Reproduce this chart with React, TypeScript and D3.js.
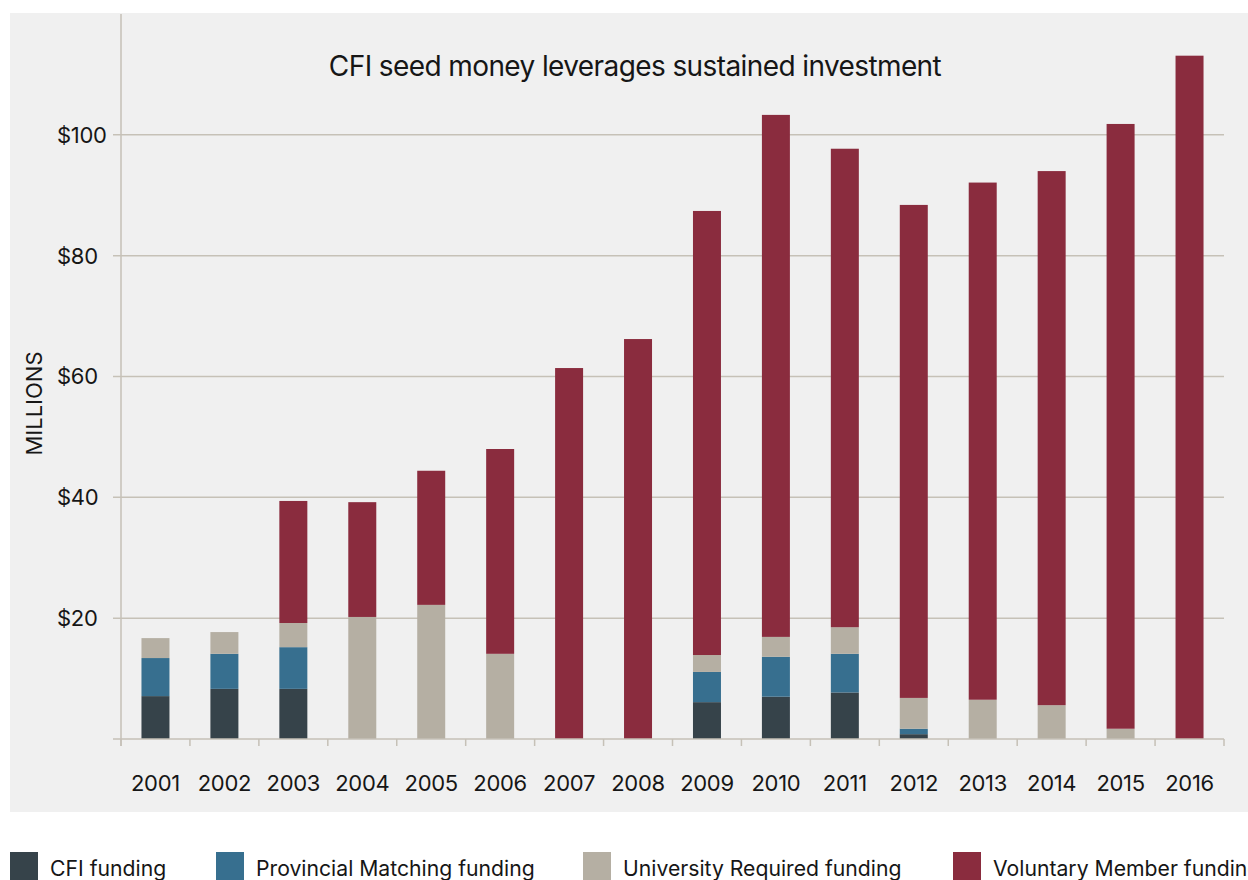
import React from "react";
import * as d3 from "d3";

const years = ["2001","2002","2003","2004","2005","2006","2007","2008","2009","2010","2011","2012","2013","2014","2015","2016"];
const cfiFunding = [7.1, 8.3, 8.3, 0, 0, 0, 0, 0, 6.1, 7.0, 7.7, 0.8, 0, 0, 0, 0];
const provincialFunding = [6.3, 5.8, 6.9, 0, 0, 0, 0, 0, 5.0, 6.6, 6.4, 0.9, 0, 0, 0, 0];
const universityFunding = [3.3, 3.6, 4.0, 20.2, 22.2, 14.1, 0, 0, 2.8, 3.3, 4.4, 5.1, 6.5, 5.6, 1.7, 0];
const voluntaryFunding = [0, 0, 20.2, 19.0, 22.2, 33.9, 61.4, 66.2, 73.5, 86.4, 79.2, 81.6, 85.6, 88.4, 100.1, 113.1];
const yTicks = [20, 40, 60, 80, 100];
const seriesKeys = ["cfi", "prov", "univ", "vol"];
const seriesLabels = ["CFI funding", "Provincial Matching funding", "University Required funding", "Voluntary Member funding"];
const seriesColors = ["#36434a", "#376f8f", "#b5afa3", "#8a2c3e"];
const title = "CFI seed money leverages sustained investment";
const yAxisTitle = "MILLIONS";

const FONT = "Inter, 'Open Sans', sans-serif";

export default function App() {
  const W = 1248, H = 880;
  const left = 121, right = 1224, top = 14, bottom = 739;
  const x = d3.scaleBand<string>().domain(years).range([left, right]).paddingInner(0.594).paddingOuter(0.297);
  const y = d3.scaleLinear().domain([0, 120]).range([bottom, top]);
  const rows = years.map((yr, i) => ({
    year: yr,
    cfi: cfiFunding[i],
    prov: provincialFunding[i],
    univ: universityFunding[i],
    vol: voluntaryFunding[i],
  }));
  const stacked = d3.stack<any>().keys(seriesKeys)(rows);
  const step = x.step();
  const legendX = [10, 216, 583, 953];
  const gridColor = "#c6c1b7";
  const textColor = "#161616";
  return (
    <svg width={W} height={H} style={{ position: "absolute", left: 0, top: 0 }} fontFamily={FONT}>
      <rect x={10} y={13} width={W - 10} height={799} fill="#f0f0f0" />
      {yTicks.map((t) => (
        <g key={t}>
          <line x1={113} x2={right} y1={y(t)} y2={y(t)} stroke={gridColor} strokeWidth={1.5} />
          <text x={57} y={y(t)} dy="0.36em" fontSize={22} letterSpacing={-0.3} fill={textColor}>{"$" + t}</text>
        </g>
      ))}
      {stacked.map((s, si) => (
        <g key={seriesKeys[si]} fill={seriesColors[si]}>
          {s.map((d, i) => {
            const h = y(d[0]) - y(d[1]);
            if (h <= 0) return null;
            return <rect key={i} x={x(years[i])} y={y(d[1])} width={x.bandwidth()} height={h} />;
          })}
        </g>
      ))}
      <line x1={left} x2={left} y1={top} y2={bottom + 7} stroke={gridColor} strokeWidth={1.5} />
      <line x1={113} x2={right} y1={bottom} y2={bottom} stroke={gridColor} strokeWidth={1.5} />
      {years.map((yr, i) => (
        <line key={"t" + yr} x1={left + i * step} x2={left + i * step} y1={bottom} y2={bottom + 7} stroke={gridColor} strokeWidth={1.5} />
      ))}
      <line x1={right} x2={right} y1={bottom} y2={bottom + 7} stroke={gridColor} strokeWidth={1.5} />
      {years.map((yr) => (
        <text key={"l" + yr} x={(x(yr) as number) + x.bandwidth() / 2} y={791} textAnchor="middle" fontSize={22} letterSpacing={-0.3} fill={textColor}>{yr}</text>
      ))}
      <text x={635} y={76} textAnchor="middle" fontSize={28} letterSpacing={-0.6} fill={textColor}>{title}</text>
      <text transform={`translate(42,403.5) rotate(-90)`} textAnchor="middle" fontSize={22} fill={textColor}>{yAxisTitle}</text>
      {seriesLabels.map((lab, i) => (
        <g key={lab}>
          <rect x={legendX[i]} y={852} width={28} height={28} fill={seriesColors[i]} />
          <text x={legendX[i] + 40} y={876} fontSize={21.2} fill={textColor}>{lab}</text>
        </g>
      ))}
    </svg>
  );
}
